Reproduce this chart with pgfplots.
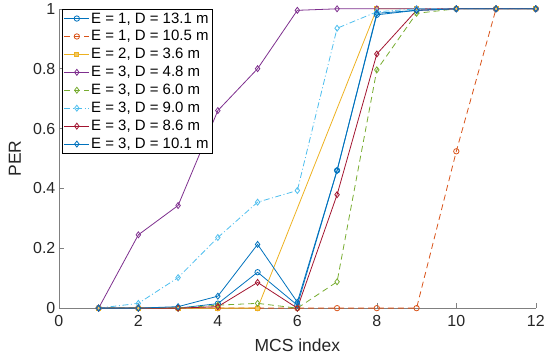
\documentclass[border=0pt]{standalone}
\usepackage{fontspec}
\setmainfont{Liberation Sans}
\usepackage{pgfplots}
\pgfplotsset{compat=1.18}
\definecolor{mB}{HTML}{0072BD}
\definecolor{mO}{HTML}{D95319}
\definecolor{mY}{HTML}{EDB120}
\definecolor{mP}{HTML}{7E2F8E}
\definecolor{mG}{HTML}{77AC30}
\definecolor{mC}{HTML}{4DBEEE}
\definecolor{mR}{HTML}{A2142F}
\definecolor{axgray}{HTML}{808080}
\begin{document}
\begin{tikzpicture}
\begin{axis}[
  scale only axis, width=478pt, height=300pt,
  xmin=0, xmax=12, ymin=0, ymax=1,
  xtick={0,2,...,12}, ytick={0,0.2,0.4,0.6,0.8,1},
  axis lines*=left,
  axis line style={axgray, line width=0.6pt},
  tick style={axgray, line width=0.6pt},
  tick align=inside,
  major tick length=5pt,
  /pgf/number format/assume math mode=true,
  ticklabel style={font=\fontsize{16}{19}\selectfont, text=black!85},
  xticklabel style={yshift=-4pt},
  xlabel={MCS index}, ylabel={PER},
  every axis x label/.style={at={(axis description cs:0.5,-0.123)}, anchor=center, font=\fontsize{17.5}{21}\selectfont, text=black!85},
  every axis y label/.style={at={(axis description cs:-0.092,0.5)}, anchor=center, rotate=90, font=\fontsize{17.5}{21}\selectfont, text=black!85},
  clip=false,
  legend cell align=left,
  legend style={at={(axis description cs:0.006,1)}, anchor=north west, draw=black, line width=0.5pt, fill=white,
    font=\fontsize{15}{17}\selectfont, inner sep=2pt, row sep=3pt,
    nodes={inner sep=1.5pt}},
  legend image code/.code={\draw[mark repeat=2,mark phase=2] plot coordinates {(0pt,0pt) (12.5pt,0pt) (25pt,0pt)};},
  every axis plot/.append style={line width=0.8pt},
]
\addplot[mB, mark=o, mark size=2.7pt, mark options={solid}] coordinates {(1,0)(2,0)(3,0)(4,0.015)(5,0.12)(6,0.01)(7,0.46)(8,0.98)(9,0.995)(10,1)(11,1)(12,1)};
\addlegendentry{E = 1, D = 13.1 m}
\addplot[mO, dashed, dash pattern=on 6pt off 4pt, mark=o, mark size=2.7pt, mark options={solid}] coordinates {(1,0)(2,0)(3,0)(4,0)(5,0)(6,0)(7,0)(8,0)(9,0)(10,0.524)(11,1)(12,1)};
\addlegendentry{E = 1, D = 10.5 m}
\addplot[mY, mark=square*, mark size=2pt, mark options={solid, fill=mY!70}] coordinates {(1,0)(2,0)(3,0)(4,0)(5,0)(8,1)(9,1)(10,1)(11,1)(12,1)};
\addlegendentry{E = 2, D = 3.6 m}
\addplot[mP, mark=diamond, mark size=3pt, mark options={solid}] coordinates {(1,0)(2,0.245)(3,0.343)(4,0.66)(5,0.80)(6,0.995)(7,1)(8,1)(9,1)(10,1)(11,1)(12,1)};
\addlegendentry{E = 3, D = 4.8 m}
\addplot[mG, dash pattern=on 6pt off 4pt, mark=diamond, mark size=3pt, mark options={solid}] coordinates {(1,0)(2,0)(3,0)(4,0.01)(5,0.016)(6,0)(7,0.088)(8,0.796)(9,0.985)(10,1)(11,1)(12,1)};
\addlegendentry{E = 3, D = 6.0 m}
\addplot[mC, dash pattern=on 6pt off 2.5pt on 1pt off 2.5pt, mark=diamond, mark size=3pt, mark options={solid}] coordinates {(1,0)(2,0.016)(3,0.102)(4,0.236)(5,0.354)(6,0.393)(7,0.935)(8,0.99)(9,1)(10,1)(11,1)(12,1)};
\addlegendentry{E = 3, D = 9.0 m}
\addplot[mR, mark=diamond, mark size=3pt, mark options={solid}] coordinates {(1,0)(2,0)(3,0)(4,0.005)(5,0.086)(6,0)(7,0.379)(8,0.849)(9,0.995)(10,1)(11,1)(12,1)};
\addlegendentry{E = 3, D = 8.6 m}
\addplot[mB, mark=diamond, mark size=3pt, mark options={solid}] coordinates {(1,0)(2,0)(3,0.005)(4,0.04)(5,0.213)(6,0.02)(7,0.46)(8,0.985)(9,0.995)(10,1)(11,1)(12,1)};
\addlegendentry{E = 3, D = 10.1 m}
\end{axis}
\path[use as bounding box] (-59pt,-53pt) rectangle (489pt,308pt);
\end{tikzpicture}
\end{document}
